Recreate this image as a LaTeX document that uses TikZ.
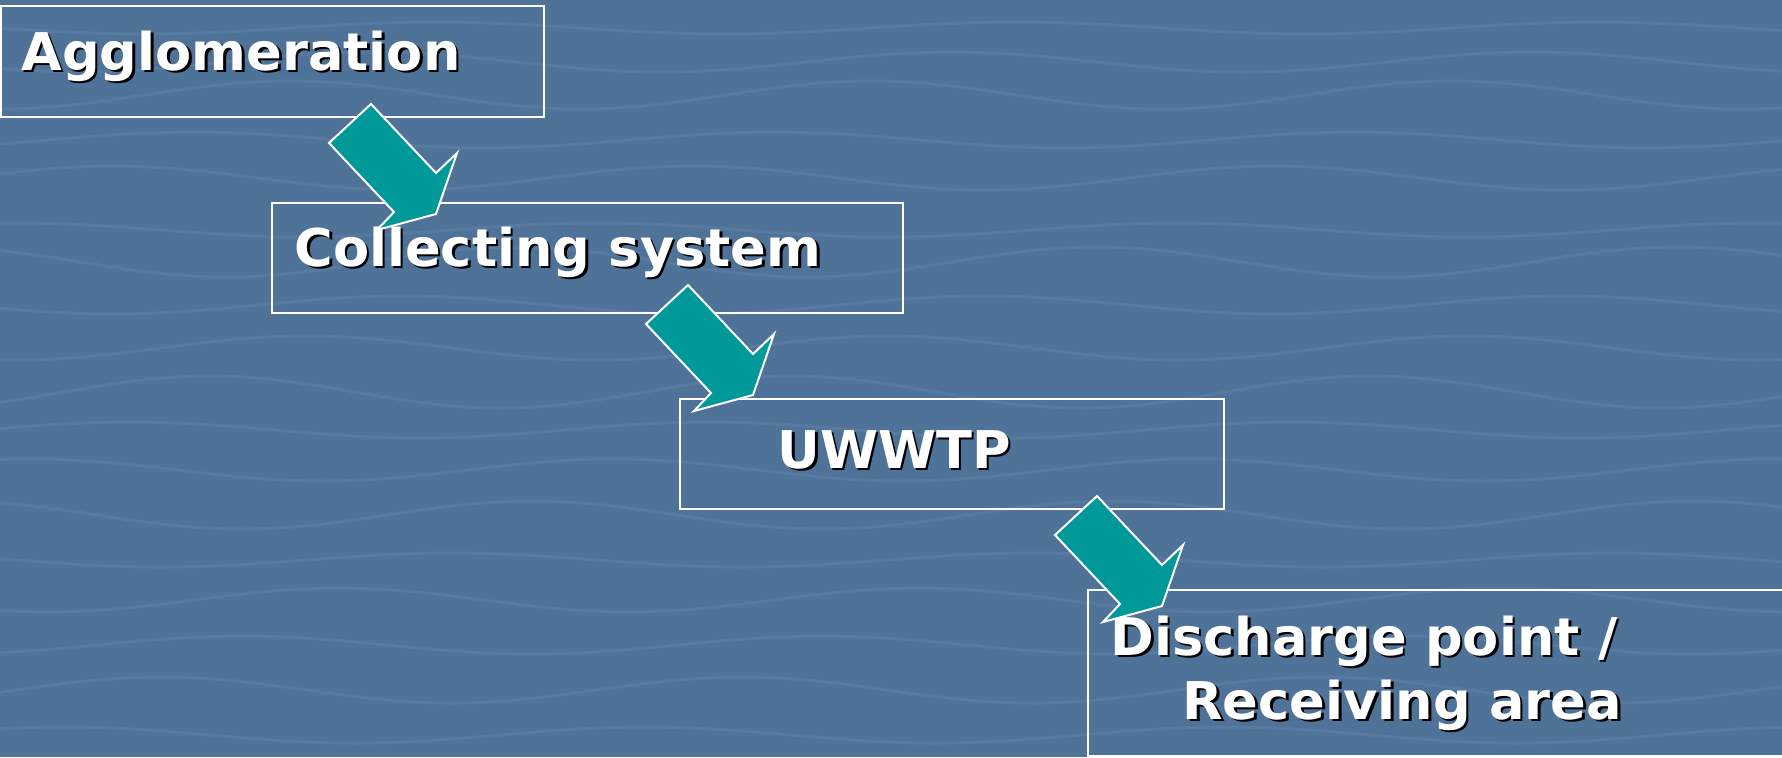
\documentclass[tikz,border=0pt]{standalone}
\usepackage{fontspec}
\setmainfont[FakeStretch=1.012]{DejaVu Sans}
\usepackage{tikz}
\usepackage{xcolor}

\definecolor{waterblue}{RGB}{79,114,153}
\definecolor{streak}{RGB}{160,185,212}
\definecolor{arrowteal}{RGB}{0,153,153}

\newcommand{\shadowtext}[1]{\makebox[0pt][l]{\hspace{1.3pt}\raisebox{-1.3pt}{\textcolor{black}{#1}}}#1}

\tikzset{
  boxline/.style={draw=white, line width=1pt},
  steptext/.style={text=white, font=\bfseries\fontsize{26}{32}\selectfont, anchor=base west, inner sep=0pt},
  flowarrow/.style={fill=arrowteal, draw=white, line width=1pt, line join=miter},
}

\begin{document}
\begin{tikzpicture}[x=0.5pt,y=-0.5pt]
			\fill[waterblue] (0,0) rectangle (1782,757);
			\useasboundingbox (0,0) rectangle (1782,757);
			% water streaks
			\begin{scope}
				\clip (0,0) rectangle (1782,757);
				\foreach \y/\p/\a in {28/0/6,62/40/10,95/90/14,140/150/8,178/200/12,230/260/7,262/310/15,305/20/9,348/80/12,392/140/16,430/190/8,470/250/11,515/300/14,560/350/7,600/60/12,645/120/9,690/170/13,735/230/8}
					\draw[streak, opacity=.12, line width=1.5pt] plot[domain=0:1782, samples=80, smooth] (\x, {\y + \a*sin(\x*0.62+\p)});
			\end{scope}
			% boxes
			\draw[boxline] (0.5,6) rectangle (544,117);
			\draw[boxline] (272,203) rectangle (903,313);
			\draw[boxline] (680,399) rectangle (1224,509);
			\draw[boxline] (1088,590) rectangle (1800,756);
			% labels
			\node[steptext] (aggl) at (21,70) {\shadowtext{Agglomeration}};
			\node[steptext] (coll) at (294,266) {\shadowtext{Collecting system}};
			\node[steptext] (uwwtp) at (777,468) {\shadowtext{UWWTP}};
			\node[steptext] (disch) at (1110,655) {\shadowtext{Discharge point /}};
			\node[steptext] (recv) at (1182,719) {\shadowtext{Receiving area}};
			% arrows
			\foreach \ax/\ay in {371/104, 688/285, 1097/496}
				\draw[flowarrow, shift={(\ax,\ay)}] (0,0) -- (65,69) -- (86,49) -- (65,110) -- (6,126) -- (23,108) -- (-42,39) -- cycle;
\end{tikzpicture}
\end{document}
